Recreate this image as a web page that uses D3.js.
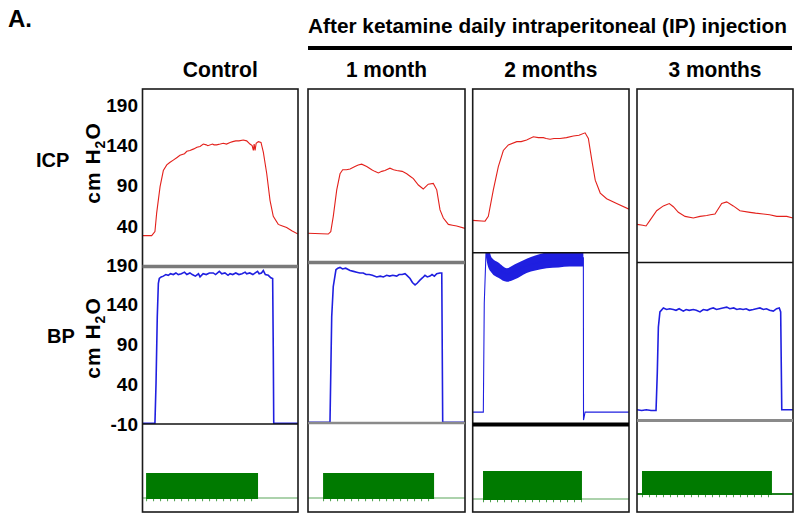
<!DOCTYPE html>
<html><head><meta charset="utf-8">
<script src="https://cdn.jsdelivr.net/npm/d3@7"></script>
<style>body{margin:0;background:#fff}</style>
</head><body><svg id="c" width="800" height="520"></svg>
<script>
// ---------- DATA ----------
const panelLabel = "A.";
const groupTitle = "After ketamine daily intraperitoneal (IP) injection";
const columns = ["Control", "1 month", "2 months", "3 months"];
const rowLabels = ["ICP", "BP"];
const icpTicks = [40, 90, 140, 190];
const bpTicks = [-10, 40, 90, 140, 190];

// ICP traces [time %, cm H2O]
const icpControl = [[0,28],[5.9,28],[8,33],[9.1,56],[11.3,89],[13.4,109],[15.6,116],[17.5,119],[19.8,122],[22,125],[24.1,128],[27,130],[28.5,133],[30.5,134],[33,136],[35,138],[37,139],[39.1,142],[41,141],[42,140],[45,142],[46,141],[47.7,141],[50,142],[52,143],[54,142],[56.3,144],[58,145],[60,146],[62,146],[64.8,147],[67,146],[69.1,142],[70.5,140],[71.3,134],[71.8,142],[72.4,134],[73.1,143],[74.5,145],[76.2,144],[77.7,132],[79.9,105],[82,72],[84.1,52],[87.3,42],[90,40],[92.7,38],[96,34],[100,30]];
const icp1Month = [[0,31],[12.9,30],[14.5,33],[16.1,52],[18.3,85],[20.4,105],[22.1,110],[24.5,110],[26.8,111],[29.9,114],[32,116],[34.2,117],[37.4,114],[40.6,110],[42.5,108],[44.8,106],[47,108],[49,109],[52.2,112],[54.5,110],[56.5,109],[60,108],[62.9,105],[65,102],[67.1,99],[70.3,91],[73.4,86],[75,89],[76.6,92],[79.8,93],[82,85],[84.1,60],[86.2,50],[89.4,42],[92,41],[94.7,40],[100,37]];
const icp2Months = [[0,47],[7.9,46],[10,52],[13.2,85],[16.4,114],[19.6,134],[22.8,141],[28.2,145],[31,145],[34.5,147],[38.8,151],[42,150],[45.2,150],[47,149],[49.5,148],[52,149],[55.9,149],[60,150],[64.4,152],[68,153],[71.9,156],[74,149],[76.2,122],[78.4,97],[81.6,81],[85.7,74],[92.1,68],[100,61]];
const icp3Months = [[0,42],[3.7,41],[5.8,40],[8.3,47],[12.6,59],[16.9,65],[20.7,68],[23.3,64],[26.5,57],[30.8,52],[36.1,50],[40.4,52],[44.7,53],[47,54],[50,55],[54.3,68],[57.5,70],[61.7,65],[66,59],[72.4,57],[76,56],[80.9,55],[85,54],[89.6,52],[93,52],[96,52],[100,50]];

// BP traces [time %, cm H2O]
const bpControl = [[0,-9],[8,-9],[8.7,41],[9.5,125],[10.2,167],[10.8,173],[12,175],[13.4,176],[15,178],[16.5,177],[18,179],[19.8,178],[21.5,180],[23,178],[25,179],[27,181],[28.5,178],[30.5,180],[32,178],[34,176],[36,179],[37,175],[39,179],[41,178],[43,180],[45.5,180],[47,178],[49.4,182],[51,179],[53,180],[55,177],[56.3,179],[58,178],[60,180],[62,178],[64,179],[66,181],[67,179],[69,180],[71,178],[72.5,180],[74,182],[75,179],[76.5,180],[77.7,183],[79,178],[80.9,177],[82.5,174],[83.7,173],[84.1,83],[84.4,-9],[100,-9]];
const bp1Month = [[0,-8],[14,-8],[15.1,125],[16.1,163],[17.8,184],[19,186],[20.4,187],[22,185],[24,186],[26.8,183],[29,182],[31,181],[33,180],[35.2,180],[37,178],[39,178],[41,177],[43.8,175],[46,176],[48,175],[50.1,177],[52,176],[54,177],[56.5,176],[58,178],[60,178],[61.8,179],[63,177],[65,173],[66.5,168],[68.2,165],[69.5,167],[71.3,171],[73,174],[74.5,177],[76,175],[77.7,176],[79,178],[80.5,176],[82,179],[84,180],[85.2,180],[85.8,-8],[100,-8]];
const bp2Months = [[0,5],[6.8,5],[7.4,142],[8.5,205],[12.2,190],[21.8,178],[34.5,189],[47.3,196],[60,199],[70.8,199],[70.9,-5],[71.9,5],[100,5]];
const bp2MonthsBandTime = [8.5, 9.5, 12.2, 16.4, 21.8, 27, 34.5, 40, 47.3, 55, 62, 70.8];
const bp2MonthsBandLow  = [200, 190, 180, 174, 169, 172, 180, 183, 186, 187, 188, 188];
const bp2MonthsBandHigh = [212, 212, 199, 193, 186, 191, 198, 202, 206, 212, 212, 212];
const bp3Months = [[0,8],[3,7],[6,8],[9,7],[12.2,7],[13,54],[13.7,112],[14.7,131],[16.9,136],[19,134],[21,135],[23.3,134],[25,133],[27,135],[29.7,132],[31.5,134],[33.5,133],[36.1,134],[38,133],[40.4,131],[42.5,134],[45,133],[47,135],[48.9,136],[51,134],[53,135],[55,136],[57.5,137],[59.5,135],[62,136],[64,134],[66,135],[68,134],[70,135],[72,133],[74.5,134],[76.5,135],[78.8,136],[81,134],[83,135],[85,133],[87.4,132],[89.5,135],[91.2,136],[92.1,131],[92.8,8],[96,8],[100,8]];

// stimulation trains [start %, end %], baseline and burst level (a.u.)
const stimOn = [[2.3,74.3],[9.6,80.3],[6.6,69.9],[3.2,86.5]];
const stimBaseline = [0, 0, -0.04, 0.16];
const stimLevel = [1, 1, 1.08, 1.08];

const icpSeries = [icpControl, icp1Month, icp2Months, icp3Months];
const bpSeries = [bpControl, bp1Month, bp2Months, bp3Months];

// ---------- LAYOUT ----------
const svg = d3.select("#c");
const colX = [[142.5,298],[308,465],[472.7,629],[637,793]];
const panelTop = 89, panelBottom = 512;
const icpDiv = [266.5, 262.5, 252.7, 262.5];
const bpDiv = [424, 423, 424.5, 420.5];
const icpDivStyle = [["#7a7a7a",3.5],["#7a7a7a",3.5],["#111",1.6],["#111",1.6]];
const bpDivStyle = [["#111",1.6],["#8a8a8a",2.5],["#000",4],["#8a8a8a",3]];
const FONT = "'Liberation Sans', Arial, sans-serif";

const icpY = d3.scaleLinear().domain([40,190]).range([226,105.5]);
const bpY = d3.scaleLinear().domain([-10,190]).range([424,265]);
const stimY = d3.scaleLinear().domain([0,1]).range([498,473]);

const RED = "#e3201b", BLUE = "#1f1fe0", GREEN = "#007a00";

// Title
svg.append("text").attr("x",8).attr("y",27).text(panelLabel)
  .attr("font-family",FONT).attr("font-weight","bold").attr("font-size",24).attr("fill","#000");
svg.append("text").attr("x",308).attr("y",33).text(groupTitle)
  .attr("font-family",FONT).attr("font-weight","bold").attr("font-size",21)
  .attr("textLength",479).attr("lengthAdjust","spacingAndGlyphs").attr("fill","#000");
svg.append("line").attr("x1",308).attr("x2",792).attr("y1",48).attr("y2",48)
  .attr("stroke","#000").attr("stroke-width",4);

const titleWidths = [75, 81, 93, 93];
columns.forEach((c,i) => {
  const cx = (colX[i][0]+colX[i][1])/2;
  svg.append("text").attr("x",cx - titleWidths[i]/2).attr("y",77).text(c)
    .attr("font-family",FONT).attr("font-weight","bold").attr("font-size",22)
    .attr("textLength",titleWidths[i]).attr("lengthAdjust","spacingAndGlyphs").attr("fill","#000");
});

// Axes
function styleAxis(g){
  g.select(".domain").remove();
  g.selectAll("text").attr("font-family",FONT).attr("font-weight","bold")
    .attr("font-size",19).attr("fill","#000");
}
svg.append("g").attr("transform","translate(138,0)")
  .call(d3.axisLeft(icpY).tickValues(icpTicks).tickFormat(d=>String(d)).tickSize(0).tickPadding(0)).call(styleAxis);
svg.append("g").attr("transform","translate(138,0)")
  .call(d3.axisLeft(bpY).tickValues(bpTicks).tickFormat(d=>String(d)).tickSize(0).tickPadding(0)).call(styleAxis);

// Row labels
svg.append("text").attr("x",36).attr("y",167).text(rowLabels[0])
  .attr("font-family",FONT).attr("font-weight","bold").attr("font-size",20);
svg.append("text").attr("x",47).attr("y",343).text(rowLabels[1])
  .attr("font-family",FONT).attr("font-weight","bold").attr("font-size",20);
function unitLabel(cx, cy){
  const t = svg.append("text").attr("transform",`translate(${cx},${cy}) rotate(-90)`)
    .attr("text-anchor","middle").attr("font-family",FONT).attr("font-weight","bold")
    .attr("font-size",21).attr("letter-spacing",1);
  t.append("tspan").text("cm H");
  t.append("tspan").text("2").attr("font-size",14).attr("dy",5);
  t.append("tspan").text("O").attr("dy",-5);
}
unitLabel(100,163);
unitLabel(100,338);

const defs = svg.append("defs");

columns.forEach((c,i) => {
  const [x0,x1] = colX[i];
  const x = d3.scaleLinear().domain([0,100]).range([x0,x1]);
  const g = svg.append("g");

  const clipI = "ci"+i, clipB = "cb"+i;
  defs.append("clipPath").attr("id",clipI).append("rect")
    .attr("x",x0).attr("y",panelTop).attr("width",x1-x0).attr("height",icpDiv[i]-panelTop);
  defs.append("clipPath").attr("id",clipB).append("rect")
    .attr("x",x0).attr("y",icpDiv[i]).attr("width",x1-x0).attr("height",bpDiv[i]-icpDiv[i]);

  // ICP
  g.append("path").datum(icpSeries[i]).attr("clip-path",`url(#${clipI})`)
    .attr("d", d3.line().x(d=>x(d[0])).y(d=>icpY(d[1])))
    .attr("fill","none").attr("stroke",RED).attr("stroke-width",1.1);

  // BP
  if (i === 2) {
    const band = bp2MonthsBandTime.map((t,k)=>[t,bp2MonthsBandLow[k],bp2MonthsBandHigh[k]]);
    g.append("path").datum(band).attr("clip-path",`url(#${clipB})`)
      .attr("d", d3.area().x(d=>x(d[0])).y0(d=>bpY(d[1])).y1(d=>bpY(d[2])).curve(d3.curveMonotoneX))
      .attr("fill",BLUE);
  }
  g.append("path").datum(bpSeries[i]).attr("clip-path",`url(#${clipB})`)
    .attr("d", d3.line().x(d=>x(d[0])).y(d=>bpY(d[1])))
    .attr("fill","none").attr("stroke",BLUE).attr("stroke-width", i===2 ? 1.1 : 1.6);

  // Stimulus
  const [s0,s1] = stimOn[i];
  g.append("line").attr("x1",x(0)).attr("x2",x(100))
    .attr("y1",stimY(stimBaseline[i])).attr("y2",stimY(stimBaseline[i]))
    .attr("stroke", i===3 ? "#1f7f1f" : "#5aa55a").attr("stroke-width", i===3 ? 2 : 1.2);
  g.append("rect").attr("x",x(s0)).attr("width",x(s1)-x(s0))
    .attr("y",stimY(stimLevel[i])).attr("height",stimY(stimBaseline[i]-0.04)-stimY(stimLevel[i]))
    .attr("fill",GREEN);
  g.append("line").attr("x1",x(s0)).attr("x2",x(s1))
    .attr("y1",stimY(stimBaseline[i]-0.08)).attr("y2",stimY(stimBaseline[i]-0.08))
    .attr("stroke",GREEN).attr("stroke-width",2.5).attr("stroke-dasharray","1 6").attr("opacity",0.7);

  // Box + dividers
  g.append("rect").attr("x",x0).attr("y",panelTop).attr("width",x1-x0).attr("height",panelBottom-panelTop)
    .attr("fill","none").attr("stroke","#1a1a1a").attr("stroke-width",1.6);
  g.append("line").attr("x1",x0).attr("x2",x1).attr("y1",icpDiv[i]).attr("y2",icpDiv[i])
    .attr("stroke",icpDivStyle[i][0]).attr("stroke-width",icpDivStyle[i][1]);
  g.append("line").attr("x1",x0).attr("x2",x1).attr("y1",bpDiv[i]).attr("y2",bpDiv[i])
    .attr("stroke",bpDivStyle[i][0]).attr("stroke-width",bpDivStyle[i][1]);
});
</script></body></html>
